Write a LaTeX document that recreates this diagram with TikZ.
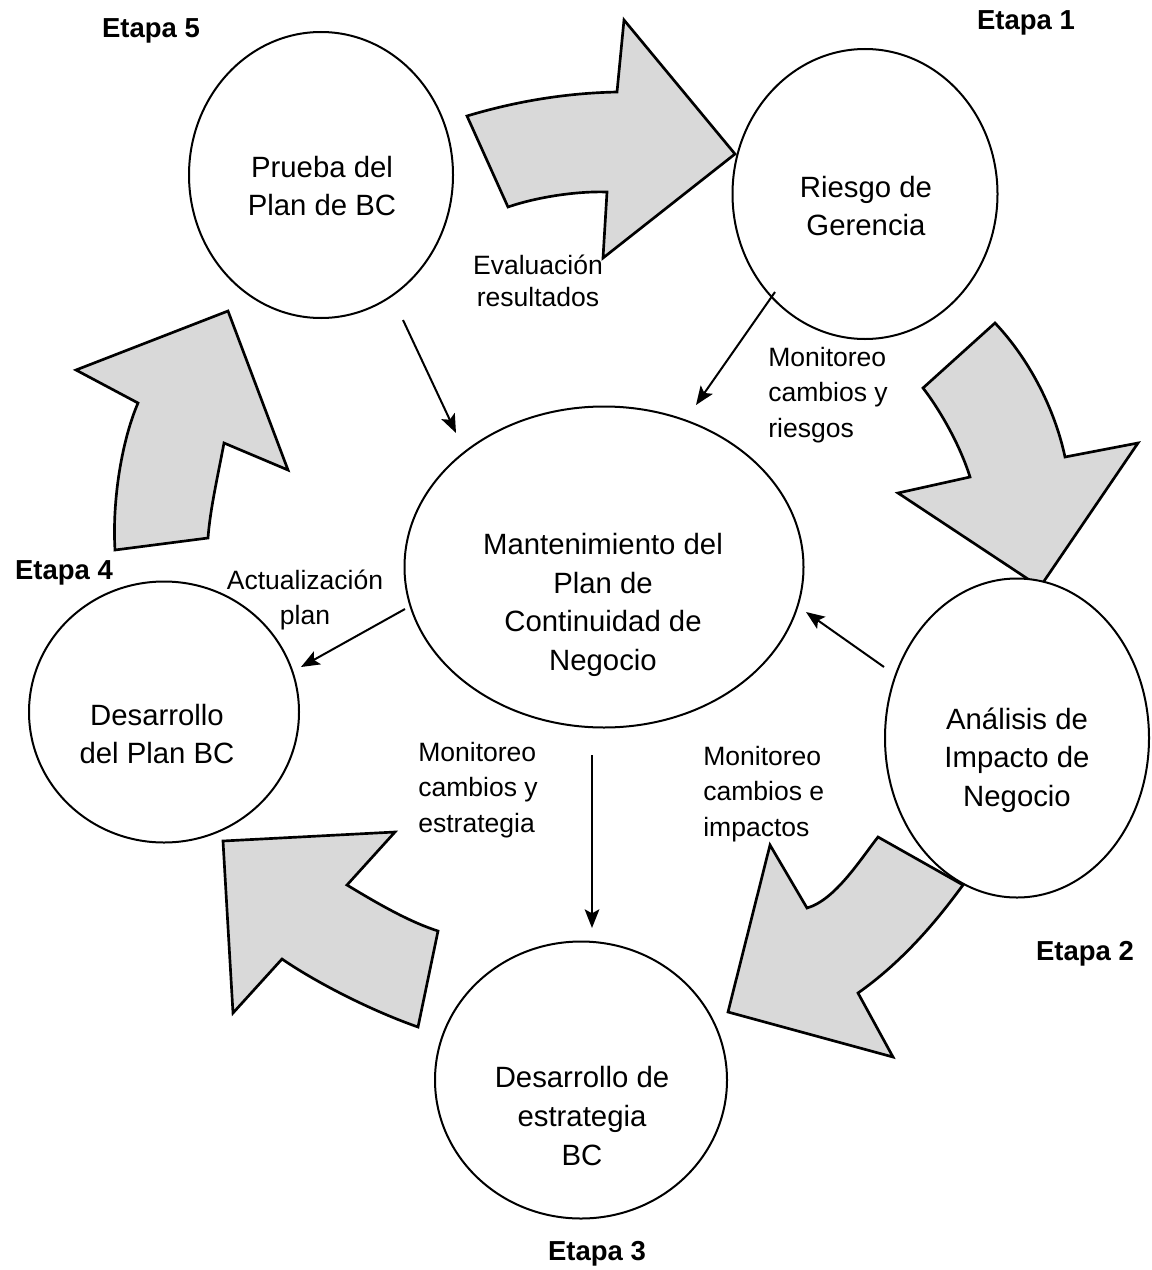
\documentclass[tikz,border=0pt]{standalone}
\usepackage{fontspec}
\setmainfont{Liberation Sans}
\usetikzlibrary{shapes.geometric,arrows.meta}
\begin{document}
\begin{tikzpicture}[x=0.75pt,y=-0.75pt,
  blockarrow/.style={draw=black, line width=2pt, fill=black!15, line join=miter},
  stage/.style={draw=black, line width=1.5pt, fill=white, ellipse, inner sep=0pt},
  stagetext/.style={font=\fontsize{22}{29}\selectfont, align=center, inner sep=0pt},
  lbl/.style={font=\fontsize{19.9}{26.6}\selectfont, align=left, inner sep=0pt},
  etapa/.style={font=\fontsize{20.6}{24}\selectfont\bfseries, inner sep=0pt},
  link/.style={line width=1.5pt, -{Stealth[length=14pt,width=11pt,inset=3pt]}}]
\useasboundingbox (0,0) rectangle (1152,1270);
\fill[white] (0,0) rectangle (1152,1270);

% block arrows
\draw[blockarrow] (467,116) .. controls (517,101) and (567,93) .. (617,92) -- (624,20) -- (735,154) -- (603,258) -- (607,192) .. controls (577,191) and (537,197) .. (508,207) -- cycle;
\draw[blockarrow] (995,323) -- (923,388) .. controls (940,410) and (960,445) .. (970,477) -- (898,493) -- (1040,587) -- (1138,443) -- (1065,457) .. controls (1055,410) and (1030,360) .. (995,323) -- cycle;
\draw[blockarrow] (770,845) -- (807,908) .. controls (835,900) and (860,860) .. (878,837) -- (963,885) .. controls (948,905) and (912,955) .. (858,993) -- (893,1057) -- (728,1012) -- cycle;
\draw[blockarrow] (223,841) -- (395,832) -- (347,885) .. controls (380,905) and (410,922) .. (438,931) -- (418,1027) .. controls (375,1012) and (320,985) .. (282,959) -- (233,1013) -- cycle;
\draw[blockarrow] (228,311) -- (288,470) -- (224,443) .. controls (218,475) and (210,510) .. (208,538) -- (115,550) .. controls (112,500) and (122,440) .. (138,403) -- (76,370) -- cycle;

% stage ellipses
\node[stage, minimum width=264*0.75pt, minimum height=286*0.75pt] (prueba) at (321,175) {};
\node[stage, minimum width=265*0.75pt, minimum height=290*0.75pt] (riesgo) at (865,194) {};
\node[stage, minimum width=399*0.75pt, minimum height=321*0.75pt] (central) at (604,567) {};
\node[stage, minimum width=270*0.75pt, minimum height=261*0.75pt] (dplan) at (164,712) {};
\node[stage, minimum width=264*0.75pt, minimum height=319*0.75pt] (analisis) at (1017,738) {};
\node[stage, minimum width=292*0.75pt, minimum height=277*0.75pt] (estrategia) at (581,1080) {};

% stage texts
\node[stagetext] (tprueba) at (322,186) {Prueba del\\Plan de BC};
\node[stagetext] (triesgo) at (866,206) {Riesgo de\\Gerencia};
\node[stagetext] (tcentral) at (603,605) {Mantenimiento del\\Plan de\\Continuidad de\\Negocio};
\node[stagetext] (tdplan) at (157,734) {Desarrollo\\del Plan BC};
\node[stagetext] (tanalisis) at (1017,760) {Análisis de\\Impacto de\\Negocio};
\node[stagetext] (testrategia) at (582,1116) {Desarrollo de\\estrategia\\BC};

% labels
\node[lbl, align=center, font=\fontsize{19.9}{24}\selectfont] (leval) at (538,281) {Evaluación\\resultados};
\node[lbl, anchor=west] (lriesgos) at (768,395) {Monitoreo\\cambios y\\riesgos};
\node[lbl, align=center] (lact) at (305,600) {Actualización\\plan};
\node[lbl, anchor=west] (lestr) at (418,790) {Monitoreo\\cambios y\\estrategia};
\node[lbl, anchor=west] (limp) at (703,794) {Monitoreo\\cambios e\\impactos};

% etapas
\node[etapa] (e5) at (151,31) {Etapa 5};
\node[etapa] (e1) at (1026,23) {Etapa 1};
\node[etapa] (e4) at (64,573) {Etapa 4};
\node[etapa] (e2) at (1085,954) {Etapa 2};
\node[etapa] (e3) at (597,1254) {Etapa 3};

% connectors
\coordinate (a1s) at (403,320); \coordinate (a1e) at (456,433);
\coordinate (a2s) at (775,292); \coordinate (a2e) at (696,405);
\coordinate (a3s) at (884,667); \coordinate (a3e) at (806,612);
\coordinate (a4s) at (405,609); \coordinate (a4e) at (301,667);
\coordinate (a5s) at (592,755); \coordinate (a5e) at (592,928);
\draw[link] (a1s) -- (a1e);
\draw[link] (a2s) -- (a2e);
\draw[link] (a3s) -- (a3e);
\draw[link] (a4s) -- (a4e);
\draw[link] (a5s) -- (a5e);
\end{tikzpicture}
\end{document}
